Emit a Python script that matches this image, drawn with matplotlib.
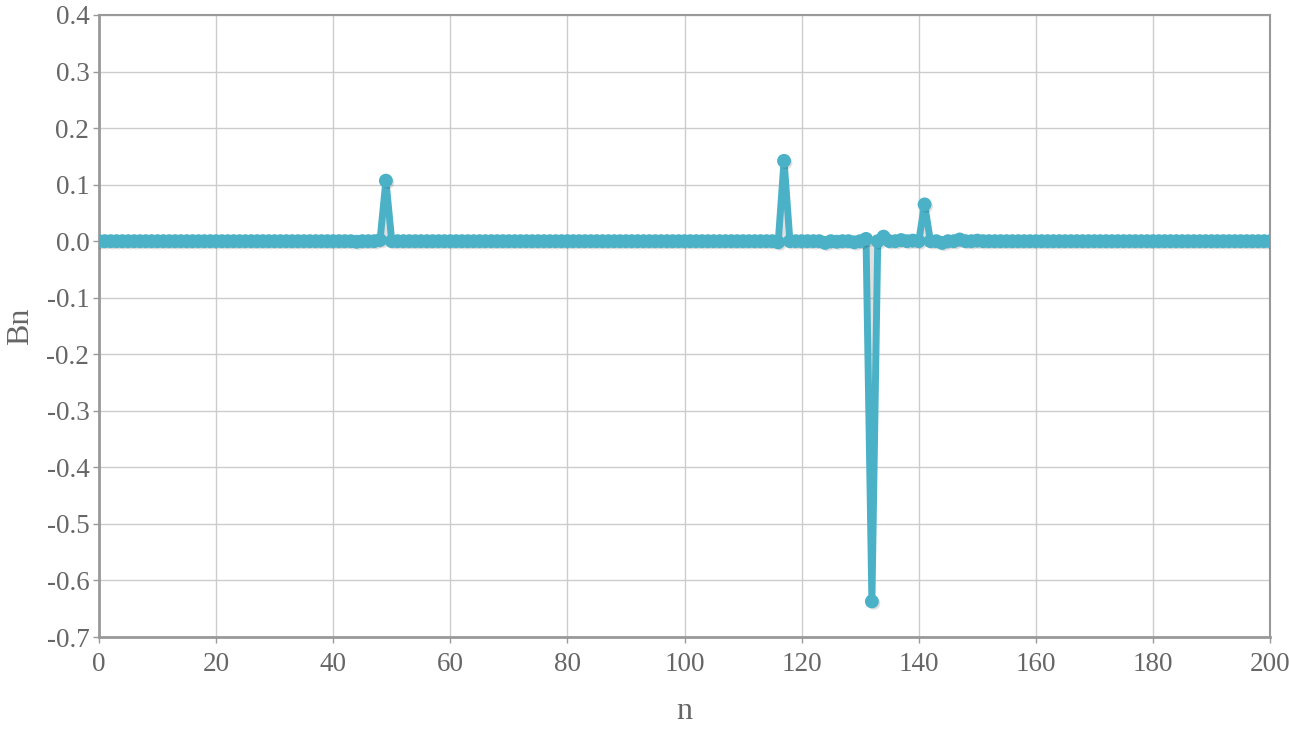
import numpy as np
import matplotlib
matplotlib.use("Agg")
import matplotlib.pyplot as plt
import matplotlib.patheffects as pe

n_values = list(range(0, 201))
spike_n = [44, 48, 49, 116, 117, 124, 126, 129, 131, 132, 134, 137, 139, 141, 144, 147, 150]
spike_b = [-0.001, 0.002, 0.107, -0.002, 0.142, -0.003, -0.001, -0.002, 0.004, -0.637, 0.008,
           0.002, 0.001, 0.065, -0.003, 0.003, 0.001]
bn_values = [0.0] * len(n_values)
for k, v in zip(spike_n, spike_b):
    bn_values[k] = v

x_ticks = list(range(0, 201, 20))
y_ticks = [round(v, 1) for v in np.arange(-0.7, 0.41, 0.1)]
y_tick_labels = ["-0.7", "-0.6", "-0.5", "-0.4", "-0.3", "-0.2", "-0.1", "0.0", "0.1", "0.2", "0.3", "0.4"]

plt.rcParams['font.family'] = ['Liberation Serif', 'DejaVu Serif']

fig = plt.figure(figsize=(12.89, 7.35), dpi=100)
ax = fig.add_axes([0.0768, 0.1333, 0.9085, 0.8463])

color = '#4bb1c7'
ax.plot(n_values, bn_values, color=color, lw=5, marker='o', ms=9,
        solid_joinstyle='round', zorder=3,
        path_effects=[pe.SimplePatchShadow(offset=(1.5, -1.5), shadow_rgbFace='#000000', alpha=0.12),
                      pe.Normal()])

ax.set_xlim(0, 200)
ax.set_ylim(-0.7, 0.4)
ax.set_xticks(x_ticks)
ax.set_yticks(y_ticks)
ax.set_yticklabels(y_tick_labels)
ax.grid(True, color='#cccccc', lw=1)
ax.set_axisbelow(True)
ax.tick_params(axis='both', colors='#999999', labelcolor='#666666', labelsize=19.5, length=4, width=1)
ax.tick_params(axis='x', pad=7)
ax.tick_params(axis='y', pad=3)
for s in ['left', 'bottom']:
    ax.spines[s].set_color('#999999')
    ax.spines[s].set_linewidth(2)
for s in ['top', 'right']:
    ax.spines[s].set_color('#999999')
    ax.spines[s].set_linewidth(1.5)

ax.set_xlabel('n', fontsize=23, color='#666666', labelpad=14)
ax.set_ylabel('Bn', fontsize=23, color='#666666', labelpad=8)

fig.savefig('out.png', dpi=100)
